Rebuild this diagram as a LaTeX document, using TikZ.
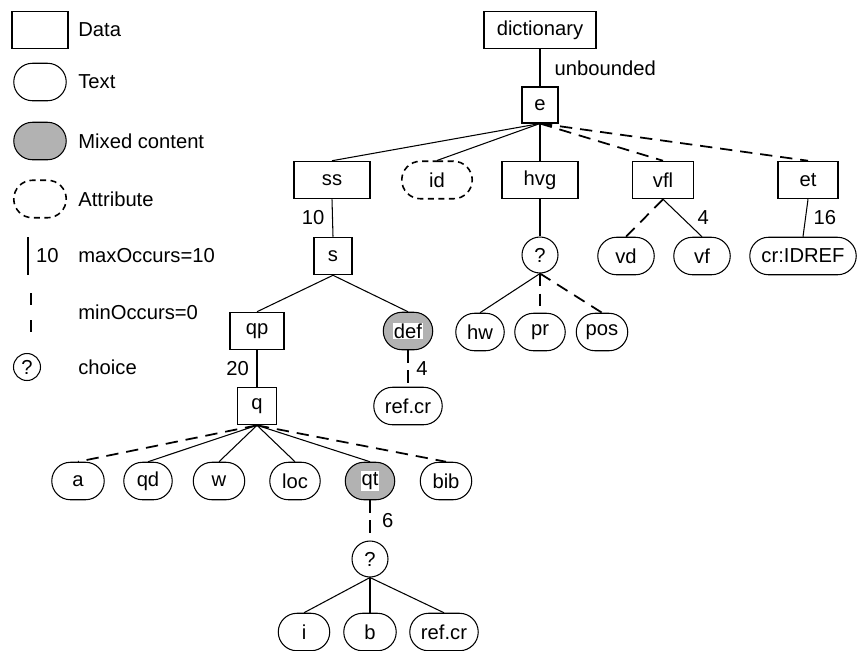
\documentclass[tikz,border=0pt]{standalone}
\usepackage{fontspec}
\setmainfont{Liberation Sans}
\usetikzlibrary{shapes.misc}

\newcommand{\hlword}[1]{{\setlength{\fboxsep}{0.6pt}\colorbox{white}{#1}}}

\begin{document}
\begin{tikzpicture}[
        x=0.02cm, y=-0.02cm,
        every node/.style={font=\fontsize{11.5}{13}\selectfont},
        box/.style={
            rectangle,
            draw=black,
            line width=0.6pt,
            minimum height=0.75cm,
            minimum width=1.1cm,
            inner sep=1pt
        },
        txt/.style={
            rounded rectangle,
            draw=black,
            line width=0.6pt,
            minimum height=0.75cm,
            minimum width=1.1cm,
            inner sep=1pt
        },
        mixed/.style={txt, fill=gray!60},
        attr/.style={txt, line width=0.9pt, dash pattern=on 3.5pt off 2.5pt},
        choicenode/.style={
            circle,
            draw=black,
            line width=0.6pt,
            minimum size=0.72cm,
            inner sep=0pt
        },
        lbl/.style={anchor=west, inner sep=0pt},
        link/.style={draw=black, line width=0.6pt},
        opt/.style={link, line width=1pt, dash pattern=on 7pt off 4.5pt}
    ]

    \useasboundingbox (0,0) rectangle (861,650);

    % legend
    \node[box, minimum width=1.12cm]  (key_data)  at (40,30)  {};
    \node[lbl] (key_data_t) at (78,30) {Data};
    \node[txt, minimum width=1.12cm]  (key_text)  at (40,82)  {};
    \node[lbl] (key_text_t) at (78,82) {Text};
    \node[mixed, minimum width=1.12cm] (key_mixed) at (40,141) {};
    \node[lbl] (key_mixed_t) at (78,141) {Mixed content};
    \node[attr, minimum width=1.12cm] (key_attr)  at (40,199) {};
    \node[lbl] (key_attr_t) at (78,199) {Attribute};

    \coordinate (key_max_a) at (28,237);
    \coordinate (key_max_b) at (28,275);
    \draw[link] (key_max_a) -- node[right=1pt] {10} (key_max_b);
    \node[lbl] (key_max_t) at (78,256) {maxOccurs=10};

    \coordinate (key_min_a) at (31,293);
    \coordinate (key_min_b) at (31,332);
    \draw[link, line width=1pt, dash pattern=on 7pt off 8.5pt] (key_min_a) -- (key_min_b);
    \node[lbl] (key_min_t) at (78,312) {minOccurs=0};

    \node[choicenode, minimum size=0.54cm] (key_choice) at (27,367) {?};
    \node[lbl] (key_choice_t) at (78,367) {choice};

    % tree
    \node[box, minimum width=2.24cm] (t_dict) at (540,30)  {dictionary};
    \node[box, minimum width=0.72cm, minimum height=0.72cm] (t_e) at (540,105) {e};

    \node[box, minimum width=1.52cm]  (t_ss)  at (332,180) {ss};
    \node[attr, minimum width=1.48cm] (t_id)  at (437,180) {id};
    \node[box, minimum width=1.52cm]  (t_hvg) at (540,180) {hvg};
    \node[box, minimum width=1.22cm]  (t_vfl) at (663,180) {vfl};
    \node[box, minimum width=1.2cm]   (t_et)  at (808,180) {et};

    \node[box, minimum width=0.76cm]  (t_s)     at (333,256) {s};
    \node[choicenode]                 (t_hvg_c) at (540,255) {?};
    \node[txt, minimum width=1.2cm]   (t_vd)    at (626,256) {vd};
    \node[txt, minimum width=1.2cm]   (t_vf)    at (702,256) {vf};
    \node[txt, minimum width=2.2cm]   (t_cr)    at (803,256) {cr:IDREF};

    \node[box, minimum width=1.08cm]  (t_qp)  at (257,331) {qp};
    \node[mixed, minimum width=1.06cm] (t_def) at (408,331) {\hlword{def}};
    \node[txt, minimum width=1.04cm]  (t_hw)  at (480,332) {hw};
    \node[txt, minimum width=1.08cm]  (t_pr)  at (540,332) {pr};
    \node[txt, minimum width=1.1cm]   (t_pos) at (602,332) {pos};

    \node[box, minimum width=0.78cm]  (t_q)      at (257,406) {q};
    \node[txt, minimum width=1.44cm]  (t_def_rc) at (408,406) {ref.cr};

    \node[txt, minimum width=1.12cm]  (t_a)   at (78,481)  {a};
    \node[txt, minimum width=1.04cm]  (t_qd)  at (148,481) {qd};
    \node[txt, minimum width=1.1cm]   (t_w)   at (219,481) {w};
    \node[txt, minimum width=1.08cm]  (t_loc) at (295,481) {loc};
    \node[mixed, minimum width=1.06cm] (t_qt) at (370,481) {\hlword{qt}};
    \node[txt, minimum width=1.1cm]   (t_bib) at (446,481) {bib};

    \node[choicenode] (t_qt_c) at (370,559) {?};
    \node[txt, minimum width=1.1cm]   (t_i)     at (304,632) {i};
    \node[txt, minimum width=1.12cm]  (t_b)     at (370,632) {b};
    \node[txt, minimum width=1.44cm]  (t_qt_rc) at (444,632) {ref.cr};

    % connectors
    \draw[link] (t_dict.south) -- node[right=4.7pt] {unbounded} (t_e.north);
    \draw[link] (t_e.south) -- (t_ss.north);
    \draw[link] (t_e.south) -- (t_id.north);
    \draw[link] (t_e.south) -- (t_hvg.north);
    \draw[opt]  (t_e.south) -- (t_vfl.north);
    \draw[opt]  (t_e.south) -- (t_et.north);

    \draw[link] (t_ss.south) -- node[left=1pt] {10} (t_s.north);
    \draw[link] (t_hvg.south) -- (t_hvg_c.north);
    \draw[opt]  (t_vfl.south) -- (t_vd.north);
    \draw[link] (t_vfl.south) -- node[right=5pt] {4} (t_vf.north);
    \draw[link] (t_et.south) -- node[right=1pt] {16} (t_cr.north);

    \draw[link] (t_s.south) -- (t_qp.north);
    \draw[link] (t_s.south) -- (t_def.north);
    \draw[link] (t_hvg_c.south) -- (t_hw.north);
    \draw[opt]  (t_hvg_c.south) -- (t_pr.north);
    \draw[opt]  (t_hvg_c.south) -- (t_pos.north);

    \draw[link] (t_qp.south) -- node[left=1pt] {20} (t_q.north);
    \draw[opt]  (t_def.south) -- node[right=1pt] {4} (t_def_rc.north);

    \draw[opt]  (t_q.south) -- (t_a.north);
    \draw[link] (t_q.south) -- (t_qd.north);
    \draw[link] (t_q.south) -- (t_w.north);
    \draw[link] (t_q.south) -- (t_loc.north);
    \draw[link] (t_q.south) -- (t_qt.north);
    \draw[opt]  (t_q.south) -- (t_bib.north);

    \draw[opt]  (t_qt.south) -- node[right=3pt] {6} (t_qt_c.north);
    \draw[link] (t_qt_c.south) -- (t_i.north);
    \draw[link] (t_qt_c.south) -- (t_b.north);
    \draw[link] (t_qt_c.south) -- (t_qt_rc.north);

\end{tikzpicture}
\end{document}
